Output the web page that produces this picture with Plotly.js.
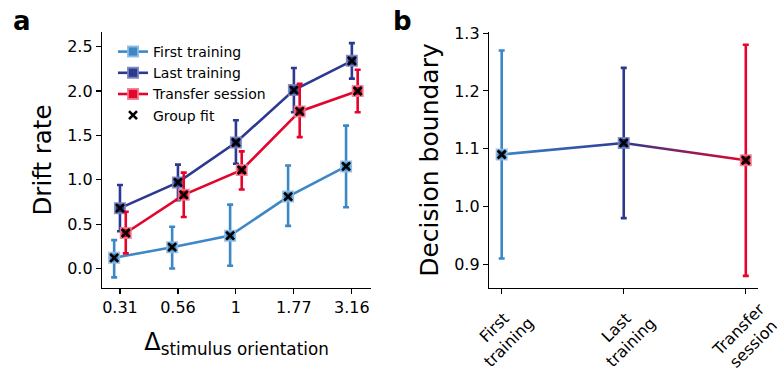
<!DOCTYPE html>
<html><head><meta charset="utf-8">
<script src="https://cdn.plot.ly/plotly-3.0.1.min.js"></script>
<style>html,body{margin:0;padding:0;background:#fff}#chart{width:777px;height:380px}</style>
</head><body><div id="chart"></div>
<script>
// ---- data ----
const orientations = ["0.31", "0.56", "1", "1.77", "3.16"];
const firstDrift = [0.12, 0.24, 0.37, 0.81, 1.15];
const firstHi    = [0.32, 0.47, 0.72, 1.16, 1.61];
const firstLo    = [-0.10, 0.00, 0.03, 0.48, 0.69];
const lastDrift  = [0.68, 0.97, 1.42, 2.01, 2.34];
const lastHi     = [0.94, 1.17, 1.67, 2.26, 2.54];
const lastLo     = [0.42, 0.77, 1.18, 1.76, 2.14];
const transferDrift = [0.40, 0.83, 1.11, 1.77, 2.00];
const transferHi    = [0.64, 1.08, 1.32, 2.08, 2.24];
const transferLo    = [0.17, 0.58, 0.89, 1.48, 1.76];
const seriesNames = ["First training", "Last training", "Transfer session"];
const sessionLabels = ["First<br>training", "Last<br>training", "Transfer<br>session"];
const boundary   = [1.09, 1.11, 1.08];
const boundaryHi = [1.27, 1.24, 1.28];
const boundaryLo = [0.91, 0.98, 0.88];

// ---- styles ----
const colors = ["#3d87c7", "#2c3991", "#e3052c"];
const halo = ["rgba(140,185,225,0.9)", "rgba(120,130,190,0.9)", "rgba(240,120,140,0.9)"];
const offsets = [-0.1, 0, 0.1];
const FONT = "DejaVu Sans";

const driftSets = [
  [firstDrift, firstHi, firstLo],
  [lastDrift, lastHi, lastLo],
  [transferDrift, transferHi, transferLo]
];

const traces = [];
driftSets.forEach((s, k) => {
  const [v, hi, lo] = s;
  const xs = v.map((_, i) => i + offsets[k]);
  traces.push({
    type: "scatter", mode: "lines+markers", name: seriesNames[k],
    x: xs, y: v, xaxis: "x", yaxis: "y",
    line: {color: colors[k], width: 2.6},
    marker: {symbol: "square", size: 10, color: colors[k], line: {color: halo[k], width: 2}},
    error_y: {type: "data", symmetric: false,
      array: v.map((val, i) => hi[i] - val),
      arrayminus: v.map((val, i) => val - lo[i]),
      color: colors[k], thickness: 2.6, width: 3}
  });
});
driftSets.forEach((s, k) => {
  const v = s[0];
  traces.push({
    type: "scatter", mode: "markers", name: "Group fit", legendgroup: "fit",
    showlegend: k === 0,
    x: v.map((_, i) => i + offsets[k]), y: v, xaxis: "x", yaxis: "y",
    marker: {symbol: "x-thin", size: 8, color: "black", line: {color: "black", width: 2.6}}
  });
});

// right panel: error bars per session
boundary.forEach((val, i) => {
  traces.push({
    type: "scatter", mode: "markers", showlegend: false,
    x: [i], y: [val], xaxis: "x2", yaxis: "y2",
    marker: {symbol: "square", size: 10, color: "rgba(0,0,0,0)", line: {width: 0}},
    error_y: {type: "data", symmetric: false,
      array: [boundaryHi[i] - val], arrayminus: [val - boundaryLo[i]],
      color: colors[i], thickness: 2.6, width: 3}
  });
});
// line segments (coloured with a gradient after drawing)
for (let i = 0; i < boundary.length - 1; i++) {
  traces.push({
    type: "scatter", mode: "lines", showlegend: false, uid: "seg" + i,
    x: [i, i + 1], y: [boundary[i], boundary[i + 1]], xaxis: "x2", yaxis: "y2",
    line: {color: colors[i], width: 2.6}
  });
}
traces.push({
  type: "scatter", mode: "markers", showlegend: false,
  x: boundary.map((_, i) => i), y: boundary, xaxis: "x2", yaxis: "y2",
  marker: {symbol: "square", size: 10, color: colors, line: {color: halo, width: 2}}
});
traces.push({
  type: "scatter", mode: "markers", showlegend: false,
  x: boundary.map((_, i) => i), y: boundary, xaxis: "x2", yaxis: "y2",
  marker: {symbol: "x-thin", size: 8, color: "black", line: {color: "black", width: 2.6}}
});

const axisCommon = {
  showline: true, linecolor: "black", linewidth: 1.2, mirror: false,
  ticks: "outside", ticklen: 5, tickwidth: 1.1, tickcolor: "black",
  showgrid: false, zeroline: false,
  tickfont: {family: FONT, size: 16, color: "black"}
};

const bottomY = 1 - 288 / 380;

// rotated, centre-aligned session labels under the right panel
const sessionAnnotations = sessionLabels.map((lab, i) => ({
  text: lab, xref: "x2", yref: "paper", x: i, y: bottomY,
  xanchor: "center", yanchor: "top", xshift: 0, yshift: -10,
  textangle: -45, align: "center", showarrow: false, borderpad: 0,
  font: {family: FONT, size: 16, color: "black"}
}));

const layout = {
  width: 777, height: 380,
  margin: {l: 0, r: 0, t: 0, b: 0},
  paper_bgcolor: "white", plot_bgcolor: "white",
  font: {family: FONT, color: "black"},
  showlegend: true,
  legend: {x: 113 / 777, y: 1 - 36 / 380, xanchor: "left", yanchor: "top",
    bgcolor: "rgba(0,0,0,0)", font: {family: FONT, size: 14}, tracegroupgap: 0,
    itemwidth: 30},
  xaxis: Object.assign({}, axisCommon, {
    domain: [102 / 777, 371 / 777], anchor: "y",
    range: [-0.31, 4.33], tickmode: "array",
    tickvals: orientations.map((_, i) => i), ticktext: orientations,
    title: {text: "Δ<sub>stimulus orientation</sub>", font: {family: FONT, size: 24}, standoff: 16}
  }),
  yaxis: Object.assign({}, axisCommon, {
    domain: [bottomY, 1 - 32 / 380], anchor: "x",
    range: [-0.22, 2.665], tickmode: "linear", tick0: 0, dtick: 0.5, tickformat: ".1f",
    title: {text: "Drift rate", font: {family: FONT, size: 24.5}, standoff: 8}
  }),
  xaxis2: Object.assign({}, axisCommon, {
    domain: [489 / 777, 758 / 777], anchor: "y2",
    range: [-0.104, 2.1], tickmode: "array",
    tickvals: sessionLabels.map((_, i) => i), showticklabels: false
  }),
  yaxis2: Object.assign({}, axisCommon, {
    domain: [bottomY, 1 - 32 / 380], anchor: "x2",
    range: [0.859, 1.302], tickmode: "linear", tick0: 0.9, dtick: 0.1, tickformat: ".1f",
    title: {text: "Decision boundary", font: {family: FONT, size: 25}, standoff: 8}
  }),
  annotations: [
    {text: "<b>a</b>", xref: "paper", yref: "paper", x: 11 / 777, y: 1 - 4 / 380,
     xanchor: "left", yanchor: "top", showarrow: false, font: {family: FONT, size: 26}},
    {text: "<b>b</b>", xref: "paper", yref: "paper", x: 391 / 777, y: 1 - 4 / 380,
     xanchor: "left", yanchor: "top", showarrow: false, font: {family: FONT, size: 26}}
  ].concat(sessionAnnotations)
};

Plotly.newPlot("chart", traces, layout, {displayModeBar: false, staticPlot: true}).then(gd => {
  const svg = gd.querySelector(".main-svg");
  const defs = svg.querySelector("defs");
  const NS = "http://www.w3.org/2000/svg";
  for (let i = 0; i < boundary.length - 1; i++) {
    const g = document.createElementNS(NS, "linearGradient");
    g.setAttribute("id", "gradseg" + i);
    g.setAttribute("x1", "0"); g.setAttribute("x2", "1");
    g.setAttribute("y1", "0"); g.setAttribute("y2", "0");
    [[0, colors[i]], [1, colors[i + 1]]].forEach(([o, c]) => {
      const st = document.createElementNS(NS, "stop");
      st.setAttribute("offset", o);
      st.setAttribute("stop-color", c);
      g.appendChild(st);
    });
    defs.appendChild(g);
    const path = gd.querySelector(".traceseg" + i + " path.js-line");
    if (path) path.style.stroke = "url(#gradseg" + i + ")";
  }
});
</script>
</body></html>
